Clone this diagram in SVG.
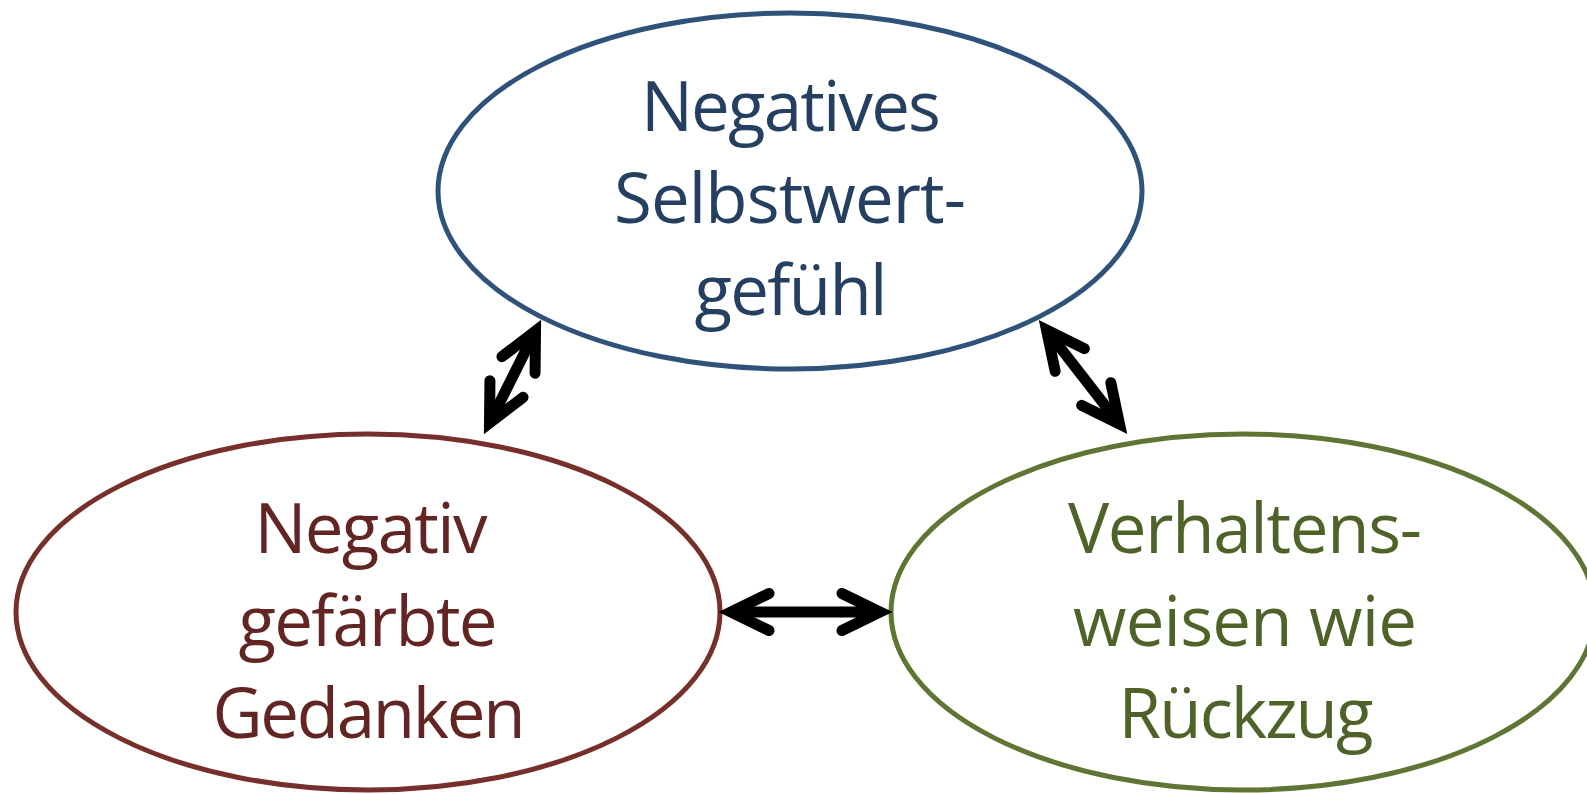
<svg xmlns="http://www.w3.org/2000/svg" width="1587" height="794" viewBox="0 0 1587 794">
<style>
.node ellipse{fill:#FFFFFF;stroke-width:5}
.lbl{font-family:"Open Sans","Noto Sans","DejaVu Sans",sans-serif;font-size:69px;text-anchor:middle}
#n-top ellipse{stroke:#2F527A}
#n-top text{fill:#243F60}
#n-left ellipse{stroke:#772F2C}
#n-left text{fill:#632523}
#n-right ellipse{stroke:#5F7533}
#n-right text{fill:#4F6228}
.conn line{stroke:#000000;stroke-width:11;stroke-linecap:butt}
</style>
<defs>
<marker id="head" markerUnits="userSpaceOnUse" orient="auto-start-reverse" refX="0" refY="0" markerWidth="10" markerHeight="10" overflow="visible">
<path d="M -38,-18.5 L 0,0 L -38,18.5" fill="none" stroke="#000000" stroke-width="11" stroke-linecap="round" stroke-linejoin="miter" stroke-miterlimit="10"/>
</marker>
</defs>
<rect width="1587" height="794" fill="#FFFFFF"/>
<g id="n-top" class="node">
<ellipse cx="790" cy="191" rx="352" ry="178"/>
<text class="lbl" x="791" y="131" textLength="300">Negatives</text>
<text class="lbl" x="790" y="223" textLength="352">Selbstwert-</text>
<text class="lbl" x="791" y="315" textLength="193">gefühl</text>
</g>
<g id="n-left" class="node">
<ellipse cx="368" cy="612" rx="352" ry="178"/>
<text class="lbl" x="371" y="553" textLength="233">Negativ</text>
<text class="lbl" x="368" y="646" textLength="259">gefärbte</text>
<text class="lbl" x="369" y="738" textLength="313">Gedanken</text>
</g>
<g id="n-right" class="node">
<ellipse cx="1243" cy="612" rx="352" ry="178"/>
<text class="lbl" x="1245" y="553" textLength="354">Verhaltens-</text>
<text class="lbl" x="1245" y="646" textLength="344">weisen wie</text>
<text class="lbl" x="1246" y="738" textLength="255">Rückzug</text>
</g>
<g id="connectors" class="conn">
<line x1="489.5" y1="423" x2="535.5" y2="331" marker-start="url(#head)" marker-end="url(#head)"/>
<line x1="1046.5" y1="330" x2="1119.5" y2="424" marker-start="url(#head)" marker-end="url(#head)"/>
<line x1="731" y1="612" x2="880" y2="612" marker-start="url(#head)" marker-end="url(#head)"/>
</g>
</svg>
